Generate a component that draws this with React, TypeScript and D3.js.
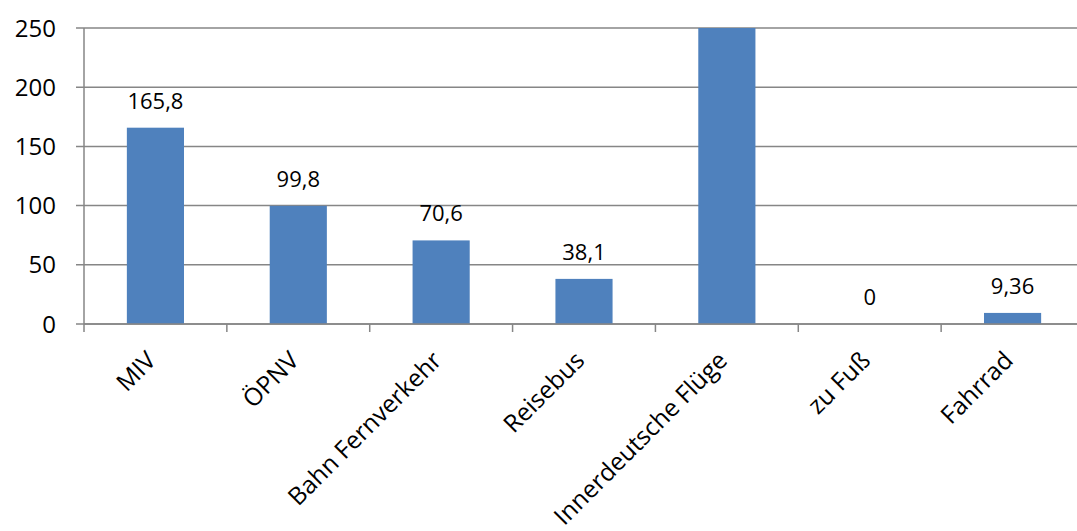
import React from "react";
import * as d3 from "d3";

const categories = ["MIV", "ÖPNV", "Bahn Fernverkehr", "Reisebus", "Innerdeutsche Flüge", "zu Fuß", "Fahrrad"];
const values = [165.8, 99.8, 70.6, 38.1, 280, 0, 9.36];
const valueLabels = ["165,8", "99,8", "70,6", "38,1", "", "0", "9,36"];
const yTicks = [0, 50, 100, 150, 200, 250];

const W = 1077;
const H = 531;
const margin = { left: 84, top: 28, right: -7, bottom: 207 };
const FONT = "'Open Sans', 'Noto Sans', sans-serif";

export default function App() {
  const x0 = margin.left;
  const x1 = W - margin.right;
  const yBottom = H - margin.bottom;
  const x = d3.scaleBand<string>().domain(categories).range([x0, x1]).paddingInner(0.6).paddingOuter(0.3);
  const band = d3.scaleBand<string>().domain(categories).range([x0, x1]);
  const y = d3.scaleLinear().domain([0, 250]).range([yBottom, margin.top]);
  const grid = "#868686";

  return (
    <svg width={W} height={H} style={{ position: "absolute", left: 0, top: 0, background: "#fff" }}>
      <defs>
        <clipPath id="plot">
          <rect x={x0} y={margin.top} width={x1 - x0} height={yBottom - margin.top} />
        </clipPath>
      </defs>
      {yTicks.map((t) => (
        <g key={t}>
          <line x1={x0 - 8} x2={x1} y1={y(t)} y2={y(t)} stroke={grid} strokeWidth={1.5} />
          <text x={x0 - 28} y={y(t)} dy="0.36em" textAnchor="end" fontFamily={FONT} fontSize={24} fill="#000">
            {t}
          </text>
        </g>
      ))}
      <line x1={x0} x2={x0} y1={margin.top} y2={yBottom + 8} stroke={grid} strokeWidth={1.5} />
      {categories.map((c) => (
        <line key={c} x1={band(c)! + band.bandwidth()} x2={band(c)! + band.bandwidth()} y1={yBottom} y2={yBottom + 8} stroke={grid} strokeWidth={1.5} />
      ))}
      <g clipPath="url(#plot)">
        {categories.map((c, i) => (
          <rect key={c} x={x(c)} width={x.bandwidth()} y={y(values[i])} height={yBottom - y(values[i])} fill="#4F81BD" />
        ))}
      </g>
      <line x1={x0} x2={x1} y1={yBottom} y2={yBottom} stroke={grid} strokeWidth={1.5} />
      {categories.map((c, i) =>
        valueLabels[i] ? (
          <text key={c} x={band(c)! + band.bandwidth() / 2} y={y(values[i]) - 19} textAnchor="middle" fontFamily={FONT} fontSize={22} fill="#000">
            {valueLabels[i]}
          </text>
        ) : null
      )}
      {categories.map((c) => {
        const cx = band(c)! + band.bandwidth() / 2 + 2;
        const cy = yBottom + 38;
        return (
          <text key={c} x={cx} y={cy} textAnchor="end" transform={`rotate(-45 ${cx} ${cy})`} fontFamily={FONT} fontSize={24.5} fill="#000">
            {c}
          </text>
        );
      })}
    </svg>
  );
}
